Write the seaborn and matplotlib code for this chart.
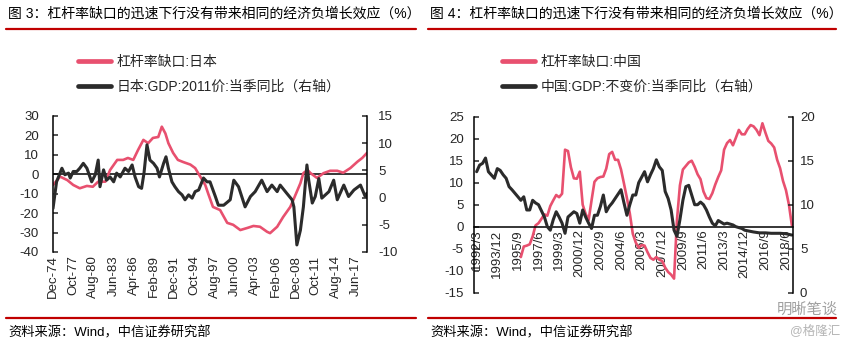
import numpy as np
import pandas as pd
import matplotlib
matplotlib.use("Agg")
import matplotlib.pyplot as plt
import seaborn as sns
from matplotlib.lines import Line2D

# ---------------- data ----------------
jp_gap_dates = ["1974-12", "1975-12", "1976-12", "1977-10", "1978-09", "1979-09", "1980-07", "1981-04",
                "1982-04", "1982-12", "1983-12", "1984-10", "1985-06", "1986-03", "1986-11", "1987-08",
                "1988-04", "1988-12", "1989-09", "1990-03", "1990-09", "1991-02", "1991-10", "1992-06",
                "1993-03", "1994-03", "1994-11", "1995-08", "1996-04", "1996-09", "1997-05", "1998-05",
                "1999-05", "2000-03", "2001-03", "2002-03", "2003-01", "2003-12", "2004-12", "2005-05",
                "2006-05", "2007-03", "2008-03", "2008-08", "2009-08", "2010-01", "2010-08", "2011-01",
                "2011-12", "2012-11", "2013-10", "2014-10", "2015-08", "2016-08", "2017-08", "2018-04",
                "2018-12"]
jp_gap_values = [-5.5, -1.2, -3.0, -5.5, -7.2, -6.0, -6.4, -3.8, -3.8, 2.2, 7.4, 7.4, 8.4, 7.4, 12.5, 17.7,
                 16.0, 18.7, 19.2, 24.5, 21.0, 16.0, 11.0, 7.4, 6.3, 5.0, 3.2, -1.4, -5.5, -10.0, -16.8, -18.4,
                 -25.0, -26.0, -28.7, -27.6, -26.6, -27.0, -29.6, -30.3, -27.0, -22.0, -16.8, -13.3, -4.6, 0.6,
                 2.2, 0.6, -1.9, 0.6, 1.8, 1.8, 0.8, 3.2, 6.5, 8.4, 11.0]

jp_gdp_dates = ["1974-12", "1975-06", "1976-03", "1976-08", "1977-02", "1977-05", "1977-10", "1978-04",
                "1978-09", "1979-03", "1979-09", "1980-05", "1980-11", "1981-04", "1981-07", "1982-01",
                "1982-06", "1982-12", "1983-06", "1983-11", "1984-05", "1985-01", "1985-07", "1986-01",
                "1986-06", "1986-12", "1987-05", "1987-09", "1988-02", "1988-07", "1989-01", "1989-07",
                "1989-11", "1990-06", "1990-10", "1991-02", "1991-08", "1992-01", "1992-07", "1993-01",
                "1993-06", "1993-12", "1994-06", "1994-11", "1995-05", "1996-01", "1996-07", "1996-12",
                "1997-09", "1998-02", "1998-11", "1999-10", "2000-04", "2000-12", "2001-11", "2002-08",
                "2003-04", "2004-03", "2004-12", "2005-08", "2006-05", "2006-10", "2007-09", "2008-06",
                "2008-09", "2009-02", "2009-08", "2010-01", "2010-07", "2010-10", "2011-04", "2011-09",
                "2012-03", "2012-08", "2013-08", "2014-04", "2014-10", "2015-09", "2016-05", "2017-02",
                "2018-01", "2018-09", "2018-12"]
jp_gdp_values = [-2.0, 2.9, 5.4, 4.2, 4.5, 3.6, 4.8, 4.8, 5.4, 6.3,
                 5.4, 2.9, 4.2, 6.9, 2.0, 5.1, 3.2, 3.8, 2.9, 4.5,
                 3.8, 5.4, 4.8, 6.0, 3.8, 2.0, 1.7, 4.5, 9.7, 6.9,
                 6.3, 5.4, 3.8, 6.3, 7.5, 5.4, 2.9, 2.0, 1.1, 0.5,
                 -0.4, 0.5, -0.1, 1.1, 1.4, 3.6, 2.9, 2.9, 0.2, -1.4,
                 -1.4, -0.4, 3.2, 2.0, -1.7, 0.2, 1.1, 3.2, 1.1, 2.3,
                 1.1, 2.3, 0.8, -0.4, -1.7, -8.7, -6.0, -1.7, 6.0, 3.2,
                 -1.0, 0.2, 3.5, -0.1, 1.1, 3.2, -0.4, 2.3, 0.2, 1.4,
                 2.3, 0.2, 0.8]

cn_gap_dates = ["1995-12",
                "1996-03", "1996-06", "1996-09", "1996-12", "1997-03", "1997-06", "1997-09", "1997-12",
                "1998-03", "1998-06", "1998-09", "1998-12", "1999-03", "1999-06", "1999-09", "1999-12",
                "2000-03", "2000-06", "2000-09", "2000-12", "2001-03", "2001-06", "2001-09", "2001-12",
                "2002-03", "2002-06", "2002-09", "2002-12", "2003-03", "2003-06", "2003-09", "2003-12",
                "2004-03", "2004-06", "2004-09", "2004-12", "2005-03", "2005-06", "2005-09", "2005-12",
                "2006-03", "2006-06", "2006-09", "2006-12", "2007-03", "2007-06", "2007-09", "2007-12",
                "2008-03", "2008-06", "2008-09", "2008-12", "2009-03", "2009-06", "2009-09", "2009-12",
                "2010-03", "2010-06", "2010-09", "2010-12", "2011-03", "2011-06", "2011-09", "2011-12",
                "2012-03", "2012-06", "2012-09", "2012-12", "2013-03", "2013-06", "2013-09", "2013-12",
                "2014-03", "2014-06", "2014-09", "2014-12", "2015-03", "2015-06", "2015-09", "2015-12",
                "2016-03", "2016-06", "2016-09", "2016-12", "2017-03", "2017-06", "2017-09", "2017-12",
                "2018-03", "2018-06", "2018-09", "2018-12"]
cn_gap_values = [-6.9,
                 -4.5, -4.3, -4.0, -2.2, 0.3, 0.8, 1.8, 2.8,
                 2.5, 4.7, 6.0, 7.2, 6.7, 7.5, 17.5, 17.2,
                 13.5, 11.0, 10.9, 12.5, 5.0, 2.9, 1.5, 6.0,
                 10.2, 11.0, 11.3, 11.4, 13.2, 16.5, 17.0, 15.2,
                 15.2, 13.0, 9.8, 6.5, 3.0, -1.6, -3.6, -4.8,
                 -4.2, -4.3, -5.8, -7.1, -7.5, -6.9, -7.5, -7.8,
                 -9.3, -10.3, -10.9, -11.8, 1.5, 9.4, 13.0, 13.8,
                 14.6, 15.0, 13.6, 11.9, 10.8, 8.0, 6.5, 6.3,
                 7.6, 9.6, 11.3, 12.8, 17.5, 19.0, 19.7, 18.5,
                 20.2, 22.0, 21.0, 21.0, 22.2, 23.1, 22.8, 22.0,
                 20.8, 23.5, 21.4, 19.5, 18.9, 18.0, 15.2, 13.3,
                 10.4, 8.3, 5.0, 0.3]

cn_gdp_dates = ["1992-03", "1992-06", "1992-09", "1992-12", "1993-03", "1993-09", "1993-12", "1994-03",
                "1994-06", "1994-09", "1994-12", "1995-03", "1995-09", "1995-12", "1996-03", "1996-06",
                "1996-09", "1996-12", "1997-03", "1997-06", "1997-12", "1998-03", "1998-06", "1998-09",
                "1998-12", "1999-03", "1999-06", "1999-09", "1999-12", "2000-06", "2000-09", "2000-12",
                "2001-03", "2001-06", "2001-09", "2001-12", "2002-03", "2002-06", "2002-09", "2002-12",
                "2003-03", "2003-06", "2003-09", "2003-12", "2004-06", "2004-09", "2004-12", "2005-03",
                "2005-06", "2005-09", "2005-12", "2006-06", "2006-09", "2006-12", "2007-03", "2007-06",
                "2007-09", "2007-12", "2008-03", "2008-06", "2008-09", "2008-12", "2009-03", "2009-06",
                "2009-09", "2009-12", "2010-03", "2010-06", "2010-09", "2010-12", "2011-03", "2011-06",
                "2011-09", "2011-12", "2012-03", "2012-06", "2012-09", "2013-03", "2013-06", "2013-12",
                "2014-03", "2014-09", "2014-12", "2015-09", "2016-03", "2016-09", "2017-03", "2017-12",
                "2018-06", "2018-12"]
cn_gdp_values = [13.75, 14.5, 14.7, 15.3, 13.75, 13.0, 14.1, 13.9, 13.4, 13.0,
                 12.05, 11.7, 10.9, 10.5, 10.9, 9.4, 9.4, 10.5, 10.2, 10.0,
                 8.6, 7.5, 7.1, 8.3, 9.2, 8.6, 7.9, 6.75, 8.6, 9.2,
                 9.0, 7.9, 9.4, 8.6, 7.9, 7.3, 8.8, 8.8, 9.8, 11.1,
                 9.2, 9.8, 10.2, 10.7, 11.7, 10.2, 8.8, 10.0, 11.1, 11.1,
                 12.5, 13.75, 12.6, 13.4, 14.1, 15.1, 14.3, 13.9, 11.5, 10.7,
                 9.4, 7.1, 6.4, 8.3, 10.5, 12.05, 12.2, 11.1, 10.0, 10.0,
                 10.3, 10.0, 9.4, 8.6, 7.9, 7.6, 8.2, 7.8, 7.9, 7.7,
                 7.5, 7.3, 7.1, 6.9, 6.8, 6.8, 6.75, 6.75, 6.7, 6.55]

jp_tick_labels = ["Dec-74", "Oct-77", "Aug-80", "Jun-83", "Apr-86", "Feb-89", "Dec-91", "Oct-94",
                  "Aug-97", "Jun-00", "Apr-03", "Feb-06", "Dec-08", "Oct-11", "Aug-14", "Jun-17"]
cn_tick_labels = ["1992/3", "1993/12", "1995/9", "1997/6", "1999/3", "2000/12", "2002/9", "2004/6",
                  "2006/3", "2007/12", "2009/9", "2011/6", "2013/3", "2014/12", "2016/9", "2018/6"]

jp_gap_label = "杠杆率缺口:日本"
jp_gdp_label = "日本:GDP:2011价:当季同比（右轴）"
cn_gap_label = "杠杆率缺口:中国"
cn_gdp_label = "中国:GDP:不变价:当季同比（右轴）"
title_left = "图 3：杠杆率缺口的迅速下行没有带来相同的经济负增长效应（%）"
title_right = "图 4：杠杆率缺口的迅速下行没有带来相同的经济负增长效应（%）"
source_text = "资料来源：Wind，中信证券研究部"

# ---------------- style ----------------
sns.set_theme(style="white")
plt.rcParams["font.family"] = ["Liberation Sans", "Noto Sans CJK SC"]
plt.rcParams["axes.unicode_minus"] = False

PINK = "#E8506F"
DARK = "#2B2B2B"
RED = "#C00000"
W, H = 847, 344


def fx(px):
    return px / W


def fy(py):
    return 1 - py / H


def frame(d, v):
    return pd.DataFrame({"date": pd.to_datetime(d, format="%Y-%m"), "value": v})


fig = plt.figure(figsize=(W / 100, H / 100), dpi=100)
fig.patch.set_facecolor("white")

ax1 = fig.add_axes([fx(53), fy(252), (367 - 53) / W, (252 - 116) / H])
ax1r = ax1.twinx()
ax2 = fig.add_axes([fx(474), fy(292.7), (793 - 474) / W, (292.7 - 116.7) / H])
ax2r = ax2.twinx()

sns.lineplot(data=frame(jp_gap_dates, jp_gap_values), x="date", y="value", ax=ax1,
             color=PINK, linewidth=1.9, legend=False)
sns.lineplot(data=frame(jp_gdp_dates, jp_gdp_values), x="date", y="value", ax=ax1r,
             color=DARK, linewidth=2.2, legend=False)
sns.lineplot(data=frame(cn_gap_dates, cn_gap_values), x="date", y="value", ax=ax2,
             color=PINK, linewidth=1.9, legend=False)
sns.lineplot(data=frame(cn_gdp_dates, cn_gdp_values), x="date", y="value", ax=ax2r,
             color=DARK, linewidth=2.2, legend=False)

for a in (ax1, ax1r, ax2, ax2r):
    a.set_xlabel("")
    a.set_ylabel("")
    a.set_facecolor("none")
    a.grid(False)
    for s in a.spines.values():
        s.set_color("black")
        s.set_linewidth(1.1)
    a.spines["top"].set_visible(False)

# left chart (Japan)
ax1.set_xlim(pd.Timestamp("1974-12-01"), pd.Timestamp("2018-12-01"))
ax1.set_ylim(-40, 30)
ax1r.set_ylim(-10, 15)
ax1.set_yticks(np.arange(-40, 31, 10))
ax1r.set_yticks(np.arange(-10, 16, 5))
ax1.spines["bottom"].set_visible(False)
ax1.spines["right"].set_visible(False)
ax1r.spines["bottom"].set_visible(False)
ax1r.spines["left"].set_visible(False)
ax1.axhline(0, color="black", linewidth=1.1, zorder=1)
jp_tick_pos = pd.to_datetime(jp_tick_labels, format="%b-%y")
ax1.set_xticks(jp_tick_pos)
ax1.set_xticklabels(jp_tick_labels, rotation=90, fontsize=9.5)
ax1.tick_params(axis="x", length=0, pad=2.5)
ax1.tick_params(axis="y", direction="in", length=3.5, width=1.1, pad=10, labelsize=9.5, left=True)
ax1r.tick_params(axis="y", direction="in", length=3.5, width=1.1, pad=8, labelsize=9.5, right=True)

# right chart (China)
ax2.set_xlim(pd.Timestamp("1991-12-10"), pd.Timestamp("2019-01-05"))
ax2.set_ylim(-15, 25)
ax2r.set_ylim(0, 20)
ax2.set_yticks(np.arange(-15, 26, 5))
ax2r.set_yticks(np.arange(0, 21, 5))
ax2.spines["right"].set_visible(False)
ax2.spines["bottom"].set_position(("data", 0))
ax2r.spines["bottom"].set_visible(False)
ax2r.spines["left"].set_visible(False)
cn_tick_pos = pd.to_datetime(cn_tick_labels, format="%Y/%m")
ax2.set_xticks(cn_tick_pos)
ax2.set_xticklabels(cn_tick_labels, rotation=90, fontsize=9.5)
ax2.tick_params(axis="x", length=0, pad=2)
ax2.tick_params(axis="y", direction="in", length=3.5, width=1.1, pad=7.5, labelsize=9.5, left=True)
ax2r.tick_params(axis="y", direction="in", length=3.5, width=1.1, pad=5, labelsize=9.5, right=True)

# titles, rules, legends, sources
for x0, x1, title in ((6, 416, title_left), (428, 836, title_right)):
    fig.text(fx(x0 + 2), fy(14), title, fontsize=10, va="center", ha="left", color="black")
    fig.add_artist(Line2D([fx(x0), fx(x1)], [fy(29), fy(29)], color=RED, linewidth=1.6))
    fig.add_artist(Line2D([fx(x0), fx(x1)], [fy(318), fy(318)], color=RED, linewidth=1.6))
    fig.text(fx(x0 + 2), fy(333), source_text, fontsize=9.5, va="center", ha="left", color="black")

for x0, labels in ((78, (jp_gap_label, jp_gdp_label)), (502, (cn_gap_label, cn_gdp_label))):
    handles = [Line2D([], [], color=PINK, linewidth=3.4), Line2D([], [], color=DARK, linewidth=3.4)]
    fig.legend(handles, labels, loc="upper left", bbox_to_anchor=(fx(x0), fy(55)), frameon=False,
               fontsize=10, handlelength=2.4, handletextpad=0.4, labelspacing=0.78,
               borderpad=0, borderaxespad=0)

fig.text(fx(838), fy(310), "明晰笔谈", fontsize=11, color="#a0a0a0", ha="right", va="center")
fig.text(fx(840), fy(331), "@格隆汇", fontsize=9, color="#b5b5b5", ha="right", va="center")

fig.savefig("out.png", dpi=100, facecolor="white")
